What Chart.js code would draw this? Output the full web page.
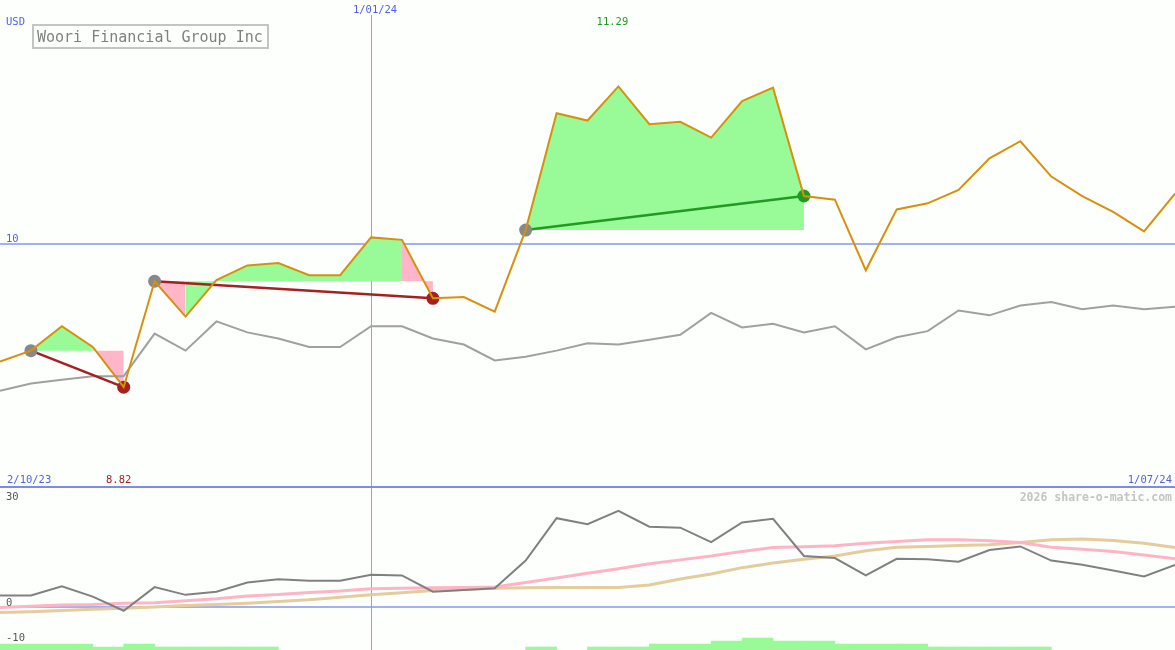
<!DOCTYPE html>
<html>
<head>
<meta charset="utf-8">
<title>Woori Financial Group Inc</title>
<script src="https://cdn.jsdelivr.net/npm/chart.js@4.4.1/dist/chart.umd.min.js"></script>
<style>
  html, body { margin: 0; padding: 0; background: #fdfffd; }
  #wrap { position: relative; width: 1175px; height: 650px; overflow: hidden; }
  canvas { position: absolute; left: 0; }
  #priceChart { top: 0; }
  #oscChart { top: 486px; }
</style>
</head>
<body>
<div id="wrap">
  <canvas id="priceChart" width="1175" height="487"></canvas>
  <canvas id="oscChart" width="1175" height="164"></canvas>
</div>
<script>
// weekly closes, Oct 2023 - Jul 2024
const weeks = [
  "9/10/23", "16/10/23", "23/10/23", "30/10/23", "6/11/23", "13/11/23", "20/11/23", "27/11/23",
  "4/12/23", "11/12/23", "18/12/23", "25/12/23", "1/01/24", "8/01/24", "15/01/24", "22/01/24",
  "29/01/24", "5/02/24", "12/02/24", "19/02/24", "26/02/24", "4/03/24", "11/03/24", "18/03/24",
  "25/03/24", "1/04/24", "8/04/24", "15/04/24", "22/04/24", "29/04/24", "6/05/24", "13/05/24",
  "20/05/24", "27/05/24", "3/06/24", "10/06/24", "17/06/24", "24/06/24", "1/07/24"
];
const closeUsd = [
  9.03, 9.12, 9.32, 9.15, 8.82, 9.69, 9.40, 9.70, 9.82, 9.84, 9.74, 9.74, 10.05,
  10.03, 9.55, 9.56, 9.44, 10.11, 11.07, 11.01, 11.29, 10.98, 11.00, 10.87, 11.17, 11.28,
  10.39, 10.36, 9.78, 10.28, 10.33, 10.44, 10.70, 10.84, 10.55, 10.39, 10.26, 10.10, 10.41
];
const benchUsd = [
  8.79, 8.85, 8.88, 8.91, 8.91, 9.26, 9.12, 9.36, 9.27, 9.22, 9.15, 9.15, 9.32,
  9.32, 9.22, 9.17, 9.04, 9.07, 9.12, 9.18, 9.17, 9.21, 9.25, 9.43, 9.31, 9.34,
  9.27, 9.32, 9.13, 9.23, 9.28, 9.45, 9.41, 9.49, 9.52, 9.46, 9.49, 9.46, 9.48
];
// trades: entry / exit week index
const tradeEntry = [1, 5, 17];
const tradeExit = [4, 14, 26];

// lower panel
const momentum = [
  3.2, 3.2, 5.8, 2.9, -1.1, 5.6, 3.4, 4.3, 6.9, 7.8, 7.4, 7.4, 9.1,
  8.9, 4.3, 4.8, 5.3, 13.1, 25.1, 23.4, 27.2, 22.7, 22.4, 18.3, 23.9, 24.9,
  14.4, 13.8, 8.9, 13.6, 13.5, 12.8, 16.1, 17.1, 13.1, 11.9, 10.3, 8.6, 11.9
];
const fastAvg = [
  -0.2, 0.15, 0.55, 0.7, 1.05, 1.2, 1.7, 2.3, 3.1, 3.5, 4.1, 4.5, 5.1,
  5.3, 5.4, 5.45, 5.6, 6.9, 8.2, 9.5, 10.8, 12.2, 13.3, 14.4, 15.7, 16.8,
  17.0, 17.3, 18.0, 18.5, 19.0, 19.0, 18.7, 18.2, 16.9, 16.3, 15.65, 14.7, 13.6
];
const slowAvg = [
  -1.6, -1.4, -1.05, -0.7, -0.37, 0.0, 0.37, 0.7, 1.05, 1.5, 2.0, 2.7, 3.4,
  4.0, 4.6, 4.95, 5.3, 5.4, 5.46, 5.46, 5.46, 6.2, 7.9, 9.3, 11.1, 12.4,
  13.5, 14.4, 15.9, 16.9, 17.1, 17.35, 17.6, 18.2, 19.0, 19.2, 18.8, 18.0, 16.8
];
// one bar per week interval
const signalBars = [
  2, 2, 2, 1, 2, 1, 1, 1, 1, null, null, null, null, null, null, null, null,
  1, null, 1, 1, 2, 2, 3, 4, 3, 3, 2, 2, 2, 1, 1, 1, 1, null, null, null, null
];

const priceTicks = [10];
const oscTicks = [30, 0, -10];
const yearIndex = 12;
const yearLabel = "1/01/24";
const startLabel = "2/10/23";
const endLabel = "1/07/24";
const title = "Woori Financial Group Inc";

const GAIN_FILL = "#98fb98";
const LOSS_FILL = "#ffb6c8";
const WIN = "#229922";
const LOSS = "#a52020";
const GRID = "#a2b0f4";
const YEAR_LINE = "#90a0f4";
const BLUE_TEXT = "#5060e8";
const MONO = "DejaVu Sans Mono";

Chart.defaults.animation = false;
Chart.defaults.font.family = MONO;

const fillSets = tradeEntry.map((s, k) => {
  const e = tradeExit[k];
  const level = closeUsd[s];
  return {
    data: closeUsd.map((v, i) => (i >= s && i <= e ? v : null)),
    borderColor: "rgba(0,0,0,0)",
    borderWidth: 1,
    pointRadius: 0,
    backgroundColor: GAIN_FILL,
    fill: { value: level },
    segment: {
      backgroundColor: c => (closeUsd[c.p1DataIndex] >= level ? GAIN_FILL : LOSS_FILL)
    },
    order: 5
  };
});

const tradeLineSets = tradeEntry.map((s, k) => {
  const e = tradeExit[k];
  return {
    data: closeUsd.map((v, i) => (i === s || i === e ? v : null)),
    spanGaps: true,
    borderColor: closeUsd[e] > closeUsd[s] ? WIN : LOSS,
    borderWidth: 2.5,
    pointRadius: 0,
    fill: false,
    order: 3
  };
});

const markerSet = {
  data: closeUsd.map((v, i) => (tradeEntry.includes(i) || tradeExit.includes(i) ? v : null)),
  showLine: false,
  pointRadius: 6.5,
  pointBorderWidth: 0,
  pointBackgroundColor: c => {
    const i = c.dataIndex;
    if (tradeEntry.includes(i)) return "#888888";
    const k = tradeExit.indexOf(i);
    return closeUsd[i] > closeUsd[tradeEntry[k]] ? WIN : LOSS;
  },
  order: 2
};

const maxIdx = closeUsd.indexOf(Math.max(...closeUsd));
const minIdx = closeUsd.indexOf(Math.min(...closeUsd));

const priceDecor = {
  id: "priceDecor",
  beforeDatasetsDraw(chart) {
    const { ctx, scales: { x, y }, width, height } = chart;
    ctx.save();
    ctx.strokeStyle = GRID;
    ctx.lineWidth = 2;
    priceTicks.forEach(t => {
      const py = Math.round(y.getPixelForValue(t));
      ctx.beginPath(); ctx.moveTo(0, py); ctx.lineTo(width, py); ctx.stroke();
    });
    ctx.strokeStyle = YEAR_LINE;
    ctx.lineWidth = 1;
    const px = Math.round(x.getPixelForValue(yearIndex)) + 0.5;
    ctx.beginPath(); ctx.moveTo(px, 15); ctx.lineTo(px, height); ctx.stroke();
    ctx.restore();
  },
  afterDraw(chart) {
    const { ctx, scales: { x, y }, width } = chart;
    ctx.save();
    ctx.font = "10.5px " + MONO;
    ctx.fillStyle = BLUE_TEXT;
    ctx.textAlign = "left";
    ctx.fillText("USD", 6, 25);
    priceTicks.forEach(t => ctx.fillText(String(t), 6, y.getPixelForValue(t) - 2));
    ctx.fillText(startLabel, 7, 483);
    ctx.textAlign = "right";
    ctx.fillText(endLabel, width - 3, 483);
    ctx.textAlign = "center";
    ctx.fillText(yearLabel, x.getPixelForValue(yearIndex) + 4, 13);
    ctx.fillStyle = WIN;
    ctx.fillText(closeUsd[maxIdx].toFixed(2), x.getPixelForValue(maxIdx) - 6, 25);
    ctx.fillStyle = LOSS;
    ctx.fillText(closeUsd[minIdx].toFixed(2), x.getPixelForValue(minIdx) - 5, 483);

    // title box
    ctx.strokeStyle = "#c4c4c4";
    ctx.lineWidth = 2;
    ctx.strokeRect(33, 25, 235, 23);
    ctx.font = "15px " + MONO;
    ctx.fillStyle = "#808080";
    ctx.textAlign = "left";
    ctx.fillText(title, 37, 42);
    ctx.restore();
  }
};

new Chart(document.getElementById("priceChart"), {
  type: "line",
  data: {
    labels: weeks,
    datasets: [
      ...fillSets,
      { data: benchUsd, borderColor: "#a0a0a0", borderWidth: 2, pointRadius: 0, fill: false, order: 4 },
      ...tradeLineSets,
      markerSet,
      { data: closeUsd, borderColor: "#d8900c", borderWidth: 2, pointRadius: 0, fill: false, order: 1 }
    ]
  },
  options: {
    responsive: false,
    animation: false,
    events: [],
    layout: { padding: 0, autoPadding: false },
    elements: { line: { tension: 0 } },
    scales: {
      x: { display: false },
      y: { display: false, min: 8, max: 12 }
    },
    plugins: { legend: { display: false }, tooltip: { enabled: false } }
  },
  plugins: [priceDecor]
});

const oscDecor = {
  id: "oscDecor",
  beforeDatasetsDraw(chart) {
    const { ctx, scales: { x, y }, width, height } = chart;
    ctx.save();
    ctx.strokeStyle = "#7c8ae8";
    ctx.lineWidth = 2;
    ctx.beginPath(); ctx.moveTo(0, 1); ctx.lineTo(width, 1); ctx.stroke();
    ctx.strokeStyle = GRID;
    const py = Math.round(y.getPixelForValue(0));
    ctx.beginPath(); ctx.moveTo(0, py); ctx.lineTo(width, py); ctx.stroke();
    ctx.strokeStyle = YEAR_LINE;
    ctx.lineWidth = 1;
    const px = Math.round(x.getPixelForValue(yearIndex)) + 0.5;
    ctx.beginPath(); ctx.moveTo(px, 2); ctx.lineTo(px, height); ctx.stroke();
    ctx.restore();
  },
  afterDraw(chart) {
    const { ctx, scales: { y }, width, height } = chart;
    ctx.save();
    ctx.font = "10.5px " + MONO;
    ctx.fillStyle = "#555555";
    ctx.textAlign = "left";
    oscTicks.forEach(t => {
      const py = Math.min(y.getPixelForValue(t) - 1, height - 5);
      ctx.fillText(String(t), 6, py);
    });
    ctx.font = "bold 11.5px " + MONO;
    ctx.fillStyle = "#c4c4c4";
    ctx.textAlign = "right";
    ctx.fillText("2026 share-o-matic.com", width - 3, 15);
    ctx.restore();
  }
};

new Chart(document.getElementById("oscChart"), {
  type: "line",
  data: {
    labels: weeks,
    datasets: [
      { data: momentum, borderColor: "#808080", borderWidth: 2, pointRadius: 0, order: 1 },
      { data: fastAvg, borderColor: "#ffb4c6", borderWidth: 3, pointRadius: 0, order: 2 },
      { data: slowAvg, borderColor: "#e4cc9c", borderWidth: 3, pointRadius: 0, order: 3 },
      {
        type: "bar", data: signalBars, xAxisID: "xb", yAxisID: "yb",
        backgroundColor: GAIN_FILL, borderWidth: 0, grouped: false,
        barPercentage: 1, categoryPercentage: 1, order: 4
      }
    ]
  },
  options: {
    responsive: false,
    animation: false,
    events: [],
    layout: { padding: 0, autoPadding: false },
    elements: { line: { tension: 0 } },
    scales: {
      x: { display: false, offset: false },
      xb: { type: "category", labels: weeks.slice(0, weeks.length - 1), offset: true, display: false },
      y: { display: false, min: -12.2, max: 34.2 },
      yb: { display: false, min: 0, max: 164 / 3 }
    },
    plugins: { legend: { display: false }, tooltip: { enabled: false } }
  },
  plugins: [oscDecor]
});
</script>
</body>
</html>
